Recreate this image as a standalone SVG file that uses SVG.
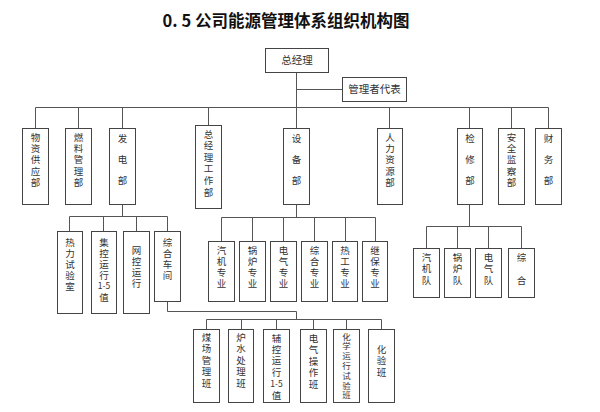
<svg xmlns="http://www.w3.org/2000/svg" width="600" height="412" viewBox="0 0 600 412">
<style>
.b{fill:#fff;stroke:#444;stroke-width:1}
.l{fill:none;stroke:#555;stroke-width:1}
.t{font-family:"Noto Sans CJK SC","Liberation Sans",sans-serif;font-size:9.5px;fill:#333;text-anchor:middle}
.h{font-size:10.5px}
.s{font-size:8.5px}
.x{font-size:8.5px}
.ti{font-family:"Noto Sans CJK SC","Liberation Sans",sans-serif;font-size:16.5px;font-weight:bold;fill:#111;text-anchor:middle}
</style>
<rect width="600" height="412" fill="#fff"/>
<text class="ti" x="286" y="27">0. 5 公司能源管理体系组织机构图</text>
<g id="connectors" class="l">
<path d="M296.5 72V128.5M296.5 89.5H342.5M35.5 107.5H548.5"/>
<path d="M35.5 107.5V128.5M78.5 107.5V128.5M122.5 107.5V128.5M208.5 107.5V125.5M389.5 107.5V128.5M469.5 107.5V128.5M511.5 107.5V128.5M548.5 107.5V128.5"/>
<path d="M122.5 204V216.5M69.5 216.5H167.5M69.5 216.5V231M103.5 216.5V231M136.5 216.5V231M167.5 216.5V231"/>
<path d="M296.5 204V217.5M221.5 217.5H375.5M221.5 217.5V241M252.5 217.5V241M283.5 217.5V241M314.5 217.5V241M345.5 217.5V241M375.5 217.5V241"/>
<path d="M469.5 204V226.5M426.5 226.5H521.5M426.5 226.5V248M457.5 226.5V248M488.5 226.5V248M521.5 226.5V248"/>
<path d="M167.5 301V311.5H296.5V319.5M206.5 319.5H381.5M206.5 319.5V329M241.5 319.5V329M276.5 319.5V329M313.5 319.5V329M346.5 319.5V329M381.5 319.5V329"/>
</g>
<g id="n-zjl"><rect class="b" x="265.5" y="48.5" width="63" height="24"/><text class="t h" x="297" y="64">总经理</text></g>
<g id="n-glzdb"><rect class="b" x="342.5" y="77.5" width="64" height="24"/><text class="t h" x="374.5" y="93">管理者代表</text></g>
<g id="n-wzgyb"><rect class="b" x="22.5" y="128.5" width="26" height="76"/><text class="t" x="35.5" y="140.5"><tspan x="35.5">物</tspan><tspan x="35.5" dy="11.4">资</tspan><tspan x="35.5" dy="11.4">供</tspan><tspan x="35.5" dy="11.4">应</tspan><tspan x="35.5" dy="11.4">部</tspan></text></g>
<g id="n-rlglb"><rect class="b" x="65.5" y="128.5" width="26" height="76"/><text class="t" x="78.5" y="140.5"><tspan x="78.5">燃</tspan><tspan x="78.5" dy="11.4">料</tspan><tspan x="78.5" dy="11.4">管</tspan><tspan x="78.5" dy="11.4">理</tspan><tspan x="78.5" dy="11.4">部</tspan></text></g>
<g id="n-fdb"><rect class="b" x="109.5" y="128.5" width="26" height="76"/><text class="t" x="122.5" y="141.5"><tspan x="122.5">发</tspan><tspan x="122.5" dy="21">电</tspan><tspan x="122.5" dy="21">部</tspan></text></g>
<g id="n-zjlgzb"><rect class="b" x="195.5" y="125.5" width="26" height="83"/><text class="t" x="208.5" y="137.5"><tspan x="208.5">总</tspan><tspan x="208.5" dy="11.6">经</tspan><tspan x="208.5" dy="11.6">理</tspan><tspan x="208.5" dy="11.6">工</tspan><tspan x="208.5" dy="11.6">作</tspan><tspan x="208.5" dy="11.6">部</tspan></text></g>
<g id="n-sbb"><rect class="b" x="283.5" y="128.5" width="26" height="76"/><text class="t" x="296.5" y="141.5"><tspan x="296.5">设</tspan><tspan x="296.5" dy="21">备</tspan><tspan x="296.5" dy="21">部</tspan></text></g>
<g id="n-rlzyb"><rect class="b" x="377.5" y="128.5" width="25" height="76"/><text class="t" x="390" y="140.5"><tspan x="390">人</tspan><tspan x="390" dy="11.4">力</tspan><tspan x="390" dy="11.4">资</tspan><tspan x="390" dy="11.4">源</tspan><tspan x="390" dy="11.4">部</tspan></text></g>
<g id="n-jxb"><rect class="b" x="457.5" y="128.5" width="25" height="76"/><text class="t" x="470" y="141.5"><tspan x="470">检</tspan><tspan x="470" dy="21">修</tspan><tspan x="470" dy="21">部</tspan></text></g>
<g id="n-aqjcb"><rect class="b" x="498.5" y="128.5" width="26" height="76"/><text class="t" x="511.5" y="140.5"><tspan x="511.5">安</tspan><tspan x="511.5" dy="11.4">全</tspan><tspan x="511.5" dy="11.4">监</tspan><tspan x="511.5" dy="11.4">察</tspan><tspan x="511.5" dy="11.4">部</tspan></text></g>
<g id="n-cwb"><rect class="b" x="535.5" y="128.5" width="26" height="76"/><text class="t" x="548.5" y="141.5"><tspan x="548.5">财</tspan><tspan x="548.5" dy="21">务</tspan><tspan x="548.5" dy="21">部</tspan></text></g>
<g id="n-rlsys"><rect class="b" x="57.5" y="231.5" width="25" height="82"/><text class="t" x="70" y="245.5"><tspan x="70">热</tspan><tspan x="70" dy="11">力</tspan><tspan x="70" dy="11">试</tspan><tspan x="70" dy="11">验</tspan><tspan x="70" dy="11">室</tspan></text></g>
<g id="n-jkyx"><rect class="b" x="91.5" y="231.5" width="25" height="82"/><text class="t" x="104" y="245.5"><tspan x="104">集</tspan><tspan x="104" dy="11">控</tspan><tspan x="104" dy="11">运</tspan><tspan x="104" dy="11">行</tspan><tspan class="s" x="104" dy="10.5">1-5</tspan><tspan x="104" dy="11.5">值</tspan></text></g>
<g id="n-wkyx"><rect class="b" x="123.5" y="231.5" width="26" height="82"/><text class="t" x="136.5" y="253.5"><tspan x="136.5">网</tspan><tspan x="136.5" dy="11">控</tspan><tspan x="136.5" dy="11">运</tspan><tspan x="136.5" dy="11">行</tspan></text></g>
<g id="n-zhcj"><rect class="b" x="154.5" y="231.5" width="26" height="70"/><text class="t" x="167.5" y="245.5"><tspan x="167.5">综</tspan><tspan x="167.5" dy="11">合</tspan><tspan x="167.5" dy="11">车</tspan><tspan x="167.5" dy="11">间</tspan></text></g>
<g id="n-qjzy"><rect class="b" x="208.5" y="241.5" width="26" height="60"/><text class="t" x="221.5" y="253.5"><tspan x="221.5">汽</tspan><tspan x="221.5" dy="11">机</tspan><tspan x="221.5" dy="11">专</tspan><tspan x="221.5" dy="11">业</tspan></text></g>
<g id="n-glzy"><rect class="b" x="239.5" y="241.5" width="26" height="60"/><text class="t" x="252.5" y="253.5"><tspan x="252.5">锅</tspan><tspan x="252.5" dy="11">炉</tspan><tspan x="252.5" dy="11">专</tspan><tspan x="252.5" dy="11">业</tspan></text></g>
<g id="n-dqzy"><rect class="b" x="270.5" y="241.5" width="26" height="60"/><text class="t" x="283.5" y="253.5"><tspan x="283.5">电</tspan><tspan x="283.5" dy="11">气</tspan><tspan x="283.5" dy="11">专</tspan><tspan x="283.5" dy="11">业</tspan></text></g>
<g id="n-zhzy"><rect class="b" x="301.5" y="241.5" width="26" height="60"/><text class="t" x="314.5" y="253.5"><tspan x="314.5">综</tspan><tspan x="314.5" dy="11">合</tspan><tspan x="314.5" dy="11">专</tspan><tspan x="314.5" dy="11">业</tspan></text></g>
<g id="n-rgzy"><rect class="b" x="332.5" y="241.5" width="25" height="60"/><text class="t" x="345" y="253.5"><tspan x="345">热</tspan><tspan x="345" dy="11">工</tspan><tspan x="345" dy="11">专</tspan><tspan x="345" dy="11">业</tspan></text></g>
<g id="n-jbzy"><rect class="b" x="362.5" y="241.5" width="25" height="60"/><text class="t" x="375" y="253.5"><tspan x="375">继</tspan><tspan x="375" dy="11">保</tspan><tspan x="375" dy="11">专</tspan><tspan x="375" dy="11">业</tspan></text></g>
<g id="n-qjd"><rect class="b" x="413.5" y="248.5" width="26" height="49"/><text class="t" x="426.5" y="260.5"><tspan x="426.5">汽</tspan><tspan x="426.5" dy="11.5">机</tspan><tspan x="426.5" dy="11.5">队</tspan></text></g>
<g id="n-gld"><rect class="b" x="444.5" y="248.5" width="26" height="49"/><text class="t" x="457.5" y="260.5"><tspan x="457.5">锅</tspan><tspan x="457.5" dy="11.5">炉</tspan><tspan x="457.5" dy="11.5">队</tspan></text></g>
<g id="n-dqd"><rect class="b" x="475.5" y="248.5" width="26" height="49"/><text class="t" x="488.5" y="260.5"><tspan x="488.5">电</tspan><tspan x="488.5" dy="11.5">气</tspan><tspan x="488.5" dy="11.5">队</tspan></text></g>
<g id="n-zh"><rect class="b" x="508.5" y="248.5" width="26" height="49"/><text class="t" x="521.5" y="260.5"><tspan x="521.5">综</tspan><tspan x="521.5" dy="23">合</tspan></text></g>
<g id="n-mcglb"><rect class="b" x="193.5" y="329.5" width="26" height="73"/><text class="t" x="206.5" y="340.5"><tspan x="206.5">煤</tspan><tspan x="206.5" dy="11.5">场</tspan><tspan x="206.5" dy="11.5">管</tspan><tspan x="206.5" dy="11.5">理</tspan><tspan x="206.5" dy="11.5">班</tspan></text></g>
<g id="n-lsclb"><rect class="b" x="228.5" y="329.5" width="25" height="73"/><text class="t" x="241" y="340.5"><tspan x="241">炉</tspan><tspan x="241" dy="11.5">水</tspan><tspan x="241" dy="11.5">处</tspan><tspan x="241" dy="11.5">理</tspan><tspan x="241" dy="11.5">班</tspan></text></g>
<g id="n-fkyx"><rect class="b" x="263.5" y="329.5" width="26" height="73"/><text class="t" x="276.5" y="341.5"><tspan x="276.5">辅</tspan><tspan x="276.5" dy="11.4">控</tspan><tspan x="276.5" dy="11.4">运</tspan><tspan x="276.5" dy="11.4">行</tspan><tspan class="s" x="276.5" dy="11.3">1-5</tspan><tspan x="276.5" dy="11.5">值</tspan></text></g>
<g id="n-dqczb"><rect class="b" x="300.5" y="329.5" width="26" height="73"/><text class="t" x="313.5" y="341.5"><tspan x="313.5">电</tspan><tspan x="313.5" dy="11.5">气</tspan><tspan x="313.5" dy="11.5">操</tspan><tspan x="313.5" dy="11.5">作</tspan><tspan x="313.5" dy="11.5">班</tspan></text></g>
<g id="n-hxyxsyb"><rect class="b" x="333.5" y="329.5" width="26" height="73"/><text class="t x" x="346.5" y="339.5"><tspan x="346.5">化</tspan><tspan x="346.5" dy="9.8">学</tspan><tspan x="346.5" dy="9.8">运</tspan><tspan x="346.5" dy="9.8">行</tspan><tspan x="346.5" dy="9.8">试</tspan><tspan x="346.5" dy="9.8">验</tspan><tspan x="346.5" dy="9.8">班</tspan></text></g>
<g id="n-hyb"><rect class="b" x="368.5" y="329.5" width="26" height="73"/><text class="t" x="381.5" y="352.5"><tspan x="381.5">化</tspan><tspan x="381.5" dy="11.5">验</tspan><tspan x="381.5" dy="11.5">班</tspan></text></g>
</svg>
